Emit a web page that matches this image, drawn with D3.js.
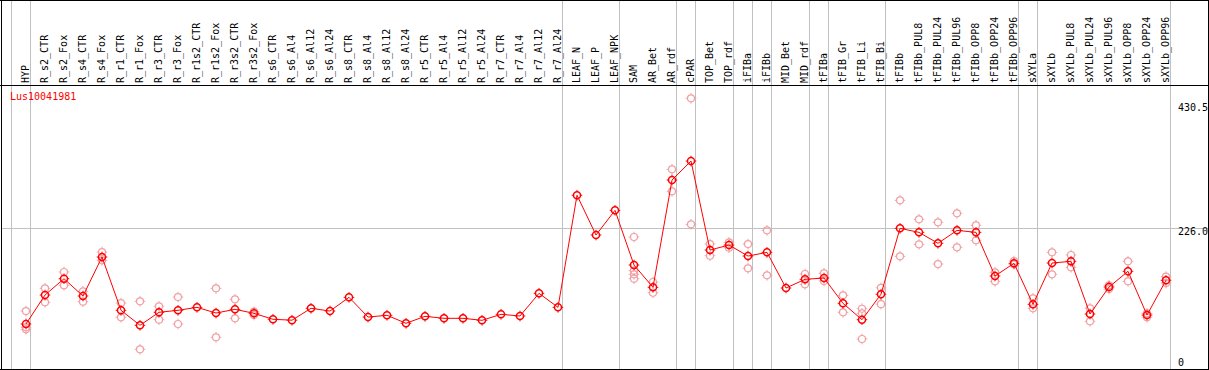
<!DOCTYPE html>
<html><head><meta charset="utf-8">
<script src="https://cdn.jsdelivr.net/npm/d3@7"></script>
<style>
html,body{margin:0;padding:0;background:#fff;}
svg{display:block;}
text{font-family:"DejaVu Sans Mono",monospace;font-size:10px;}
</style></head>
<body>
<svg id="chart" width="1209" height="370"></svg>
<script>
const geneName = "Lus10041981";
const categories = ["HYP","R_s2_CTR","R_s2_Fox","R_s4_CTR","R_s4_Fox","R_r1_CTR","R_r1_Fox","R_r3_CTR","R_r3_Fox","R_r1s2_CTR","R_r1s2_Fox","R_r3s2_CTR","R_r3s2_Fox","R_s6_CTR","R_s6_Al4","R_s6_Al12","R_s6_Al24","R_s8_CTR","R_s8_Al4","R_s8_Al12","R_s8_Al24","R_r5_CTR","R_r5_Al4","R_r5_Al12","R_r5_Al24","R_r7_CTR","R_r7_Al4","R_r7_Al12","R_r7_Al24","LEAF_N","LEAF_P","LEAF_NPK","SAM","AR_Bet","AR_rdf","cPAR","TOP_Bet","TOP_rdf","iFIBa","iFIBb","MID_Bet","MID_rdf","tFIBa","tFIB_Gr","tFIB_Li","tFIB_Bi","tFIBb","tFIBb_PUL8","tFIBb_PUL24","tFIBb_PUL96","tFIBb_OPP8","tFIBb_OPP24","tFIBb_OPP96","sXYLa","sXYLb","sXYLb_PUL8","sXYLb_PUL24","sXYLb_PUL96","sXYLb_OPP8","sXYLb_OPP24","sXYLb_OPP96"];
const means = [68.1,115.9,142.8,114.3,178.6,90.7,66.0,87.4,90.7,95.6,86.2,92.3,85.7,75.9,74.4,94.0,89.5,112.1,79.6,82.5,69.3,80.8,77.5,77.5,74.2,84.1,81.3,118.7,95.6,280.5,214.9,255.6,165.4,128.6,305.6,336.9,190.1,198.4,180.2,186.3,127.5,141.8,144.0,102.2,75.2,117.2,225.9,219.3,201.2,222.6,219.3,147.3,168.2,100.6,168.7,171.5,84.6,129.1,155.0,82.9,140.2];
const replicates = [
 [89.5,62.7,59.4],[127.0,103.9],[153.9,131.9],[122.0,104.9],[186.8,173.1],
 [102.7,79.2],[105.5,26.4],[97.3,75.2],[112.6,68.1],[],
 [127.0,46.2],[108.8,77.5],[88.4,82.9],[],[],
 [],[],[],[],[],
 [],[],[],[],[],
 [],[],[],[],[],
 [],[],[211.6,156.0,150.1,142.8],[137.4,119.7],[323.2,286.9],
 [440.3,232.5],[200.0,180.7],[202.8,193.9],[200.0,160.0],[222.6,148.4],
 [],[150.6,133.6],[151.7,139.0],[115.4,87.4],[93.3,85.7,43.4],
 [127.8,100.8],[272.1,179.7],[240.8,199.5],[235.8,167.0],[250.6,194.6],
 [230.9,206.1],[153.4,138.5],[172.0,166.5],[110.5,94.0],[186.3,150.1],
 [181.9,161.6],[94.0,72.6],[131.9,125.8],[171.5,138.5],[85.7,79.2],
 [146.1,135.7]
];
const yTicks = [0, 226.0, 430.5];
const gridValues = [226.0];
const groupEnds = ["HYP","R_r7_Al24","LEAF_NPK","AR_rdf","cPAR","TOP_rdf","iFIBa","iFIBb","MID_rdf","tFIBa","tFIB_Bi","tFIBb_OPP96","sXYLa","sXYLb_OPP96"];

const W = 1209, H = 370;
const svg = d3.select("#chart");
const x = d3.scalePoint().domain(categories).range([26, 1166]);
const step = x.step();
const y = d3.scaleLinear().domain([0, 430.5]).range([365.3, 104.3]);

const lineColor = "#ff0000", repColor = "#f0a0a4", gridColor = "#c0c0c0";

// grid horizontal
svg.append("g").selectAll("line").data(gridValues).join("line")
  .attr("x1", 1).attr("x2", W - 1)
  .attr("y1", d => Math.round(y(d)) + 0.5).attr("y2", d => Math.round(y(d)) + 0.5)
  .attr("stroke", gridColor).attr("shape-rendering", "crispEdges");

// group separators
const sepX = [x(categories[0]) - step].concat(groupEnds.map(c => x(c)))
  .map(v => Math.round(v + 4.3) + 0.5);
svg.append("g").selectAll("line").data(sepX).join("line")
  .attr("x1", d => d).attr("x2", d => d).attr("y1", 0).attr("y2", H)
  .attr("stroke", gridColor).attr("shape-rendering", "crispEdges");

// frame
const frame = svg.append("g").attr("stroke", "#000").attr("shape-rendering", "crispEdges");
frame.append("line").attr("x1", 0).attr("x2", W).attr("y1", 0.5).attr("y2", 0.5);
frame.append("line").attr("x1", 0).attr("x2", W).attr("y1", 85.5).attr("y2", 85.5);
frame.append("line").attr("x1", 0).attr("x2", W).attr("y1", 369.5).attr("y2", 369.5);
frame.append("line").attr("x1", 1.5).attr("x2", 1.5).attr("y1", 0).attr("y2", H);
frame.append("line").attr("x1", 1208.5).attr("x2", 1208.5).attr("y1", 0).attr("y2", H);

// category labels
svg.append("g").selectAll("text").data(categories).join("text")
  .attr("transform", d => `translate(${x(d) + 3},83) rotate(-90)`)
  .attr("fill", "#000").text(d => d);

// gene label
svg.append("text").attr("x", 10).attr("y", 100).attr("fill", "#ff0000").text(geneName);

// right axis labels
svg.append("g").selectAll("text").data(yTicks).join("text")
  .attr("x", 1178).attr("y", d => Math.min(y(d) + 7, 366))
  .attr("fill", "#000").text(d => d3.format(".1f")(d).replace(/^0\.0$/, "0"));

// marker drawer
function marker(g, color, sw) {
  const r = 3.5;
  g.append("circle").attr("r", r).attr("fill", "none").attr("stroke", color).attr("stroke-width", sw);
  g.append("path").attr("d", `M0,${-r-1.8}V${-r}M0,${r}V${r+1.8}M${-r-1.8},0H${-r}M${r},0H${r+1.8}`)
    .attr("stroke", color).attr("stroke-width", 1);
}

// replicates
const repData = [];
categories.forEach((c, i) => replicates[i].forEach(v => repData.push({c, v})));
svg.append("g").selectAll("g").data(repData).join("g")
  .attr("transform", d => `translate(${x(d.c)},${y(d.v)})`)
  .each(function() { marker(d3.select(this), repColor, 1.2); });

// mean line
const line = d3.line().x((d, i) => x(categories[i])).y(d => y(d));
svg.append("path").datum(means).attr("d", line).attr("fill", "none")
  .attr("stroke", lineColor).attr("stroke-width", 1);

// mean markers
svg.append("g").selectAll("g").data(means).join("g")
  .attr("transform", (d, i) => `translate(${x(categories[i])},${y(d)})`)
  .each(function() { marker(d3.select(this), lineColor, 1.5); });
</script>
</body></html>
